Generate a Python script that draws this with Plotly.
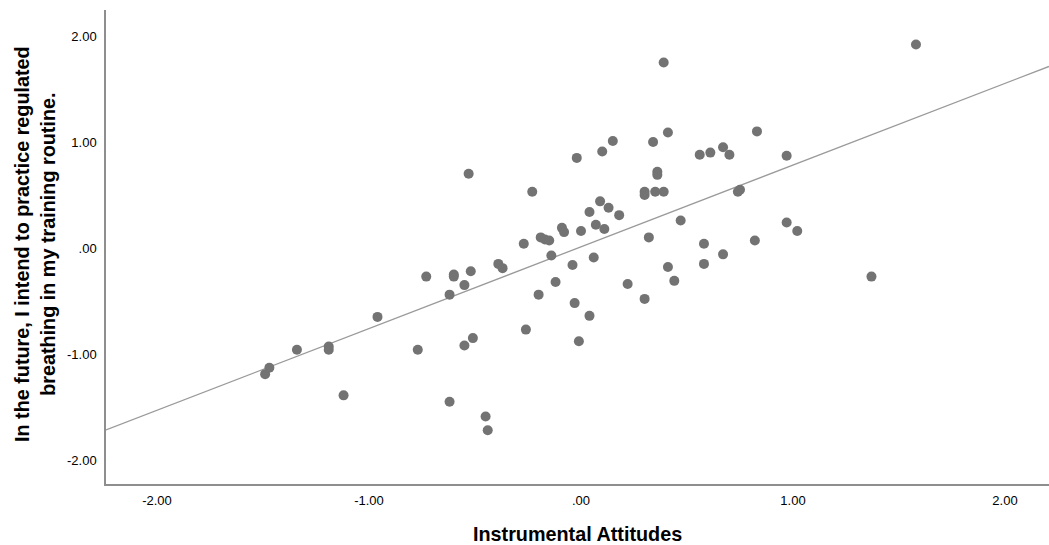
import numpy as np
import plotly.graph_objects as go

# Data (standardised scores)
instrumental_attitudes = [
    -1.49, -1.47, -1.34, -1.19, -1.19, -1.12, -0.96, -0.77, -0.73, -0.62,
    -0.62, -0.60, -0.60, -0.55, -0.55, -0.53, -0.52, -0.51, -0.45, -0.44,
    -0.39, -0.37, -0.27, -0.26, -0.23, -0.20, -0.19, -0.17, -0.15, -0.14,
    -0.12, -0.09, -0.08, -0.04, -0.02, -0.03, -0.01, 0.00, 0.04, 0.04,
    0.06, 0.07, 0.09, 0.10, 0.11, 0.13, 0.15, 0.18, 0.22, 0.30,
    0.30, 0.30, 0.32, 0.34, 0.36, 0.36, 0.35, 0.39, 0.39, 0.41,
    0.41, 0.44, 0.47, 0.56, 0.58, 0.58, 0.61, 0.67, 0.67, 0.70,
    0.74, 0.75, 0.82, 0.83, 0.97, 0.97, 1.02, 1.37, 1.58,
]
intention = [
    -1.19, -1.13, -0.96, -0.93, -0.96, -1.39, -0.65, -0.96, -0.27, -0.44,
    -1.45, -0.25, -0.27, -0.35, -0.92, 0.70, -0.22, -0.85, -1.59, -1.72,
    -0.15, -0.19, 0.04, -0.77, 0.53, -0.44, 0.10, 0.08, 0.07, -0.07,
    -0.32, 0.19, 0.15, -0.16, 0.85, -0.52, -0.88, 0.16, 0.34, -0.64,
    -0.09, 0.22, 0.44, 0.91, 0.18, 0.38, 1.01, 0.31, -0.34, 0.53,
    0.50, -0.48, 0.10, 1.00, 0.72, 0.69, 0.53, 0.53, 1.75, 1.09,
    -0.18, -0.31, 0.26, 0.88, -0.15, 0.04, 0.90, 0.95, -0.06, 0.88,
    0.53, 0.55, 0.07, 1.10, 0.87, 0.24, 0.16, -0.27, 1.92,
]
# Fit line (total-sample linear fit)
fit_slope = 0.771
fit_intercept = 0.011

tick_values = [-2, -1, 0, 1, 2]
x_tick_labels = ["-2.00", "-1.00", ".00", "1.00", "2.00"]
y_tick_labels = ["-2.00", "-1.00", ".00", "1.00", "2.00"]
x_title = "Instrumental Attitudes"
y_title = "In the future, I intend to practice regulated<br>breathing in my training routine."

X_RANGE = [-2.2406, 2.2075]
Y_RANGE = [-2.2264, 2.2453]

fit_x = np.array(X_RANGE)
fit_y = fit_intercept + fit_slope * fit_x

fig = go.Figure()
fig.add_trace(go.Scatter(
    x=fit_x, y=fit_y, mode="lines",
    line=dict(color="#9a9a9a", width=1.3),
    hoverinfo="skip", showlegend=False,
))
fig.add_trace(go.Scatter(
    x=instrumental_attitudes, y=intention, mode="markers",
    marker=dict(size=10, color="#737373", line=dict(width=0)),
    showlegend=False,
))

font_family = "Liberation Sans, Arial, sans-serif"
fig.update_layout(
    width=1049, height=545,
    margin=dict(l=106, r=0, t=10, b=61),
    paper_bgcolor="white", plot_bgcolor="white",
    font=dict(family=font_family, color="black"),
    xaxis=dict(
        range=X_RANGE, tickvals=tick_values, ticktext=x_tick_labels,
        showgrid=False, zeroline=False, ticks="",
        showline=True, linecolor="#8e8e8e", linewidth=1.5,
        tickfont=dict(size=13, family=font_family, color="black"),
        ticklabelstandoff=4,
    ),
    yaxis=dict(
        range=Y_RANGE, tickvals=tick_values, ticktext=y_tick_labels,
        showgrid=False, zeroline=False, ticks="",
        showline=True, linecolor="#8e8e8e", linewidth=1.5,
        tickfont=dict(size=13, family=font_family, color="black"),
        ticklabelstandoff=5,
    ),
    annotations=[
        dict(text="<b>" + x_title + "</b>", xref="paper", yref="paper",
             x=0.5, y=0, yshift=-50, xanchor="center", yanchor="middle",
             showarrow=False, font=dict(size=19.8, family=font_family, color="black")),
        dict(text="<b>" + y_title.replace("<br>", "</b><br><b>") + "</b>",
             xref="paper", yref="paper",
             x=0, xshift=-71, y=0.5, yshift=3, xanchor="center", yanchor="middle",
             textangle=-90, showarrow=False,
             font=dict(size=19.8, family=font_family, color="black")),
    ],
)

fig.write_html(
    "out.html",
    config={"displayModeBar": False},
    post_script="document.body.style.margin='0';document.body.style.overflow='hidden';",
)
